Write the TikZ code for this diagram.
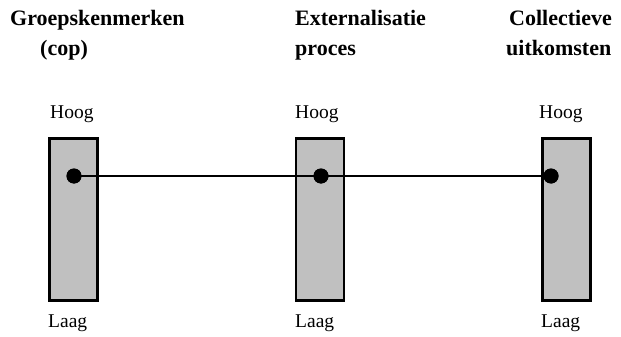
\documentclass[tikz,border=0pt]{standalone}
\usepackage{fontspec}
\setmainfont{Liberation Serif}
\begin{document}
\begin{tikzpicture}[x=1pt,y=-1pt,
  bar/.style={draw=black,line width=2.6pt,fill=barfill,inner sep=0pt,minimum width=48pt,minimum height=162pt},
  dot/.style={circle,fill=black,inner sep=0pt,minimum size=15pt},
  head/.style={anchor=base west,inner sep=0pt,font=\fontsize{22}{26}\selectfont\bfseries},
  lab/.style={anchor=base west,inner sep=0pt,font=\fontsize{19.5}{23}\selectfont},
  link/.style={line width=2pt}]
\definecolor{barfill}{HTML}{C0C0C0}
\useasboundingbox (0,0) rectangle (621,337);
% headings
\node[head] (h1a) at (10,26) {Groepskenmerken};
\node[head] (h1b) at (40,56) {(cop)};
\node[head] (h2a) at (295,26) {Externalisatie};
\node[head] (h2b) at (295,56) {proces};
\node[head] (h3a) at (509,26) {Collectieve};
\node[head] (h3b) at (506,56) {uitkomsten};
% bars
\node[bar] (b1) at (73.6,219.4) {};
\node[bar] (b2) at (320,219.4) {};
\node[bar] (b3) at (566.5,219.4) {};
% labels
\node[lab] (t1) at (50,118) {Hoog};
\node[lab] (t2) at (295,118) {Hoog};
\node[lab] (t3) at (539,118) {Hoog};
\node[lab] (l1) at (48,327) {Laag};
\node[lab] (l2) at (295,327) {Laag};
\node[lab] (l3) at (541,327) {Laag};
% dots and connector
\node[dot] (d1) at (74,176) {};
\node[dot] (d2) at (321,176) {};
\node[dot] (d3) at (551,176) {};
\draw[link] (d1.center) -- (d2.center) -- (d3.center);
\node[dot] at (d1) {};
\node[dot] at (d2) {};
\node[dot] at (d3) {};
\end{tikzpicture}
\end{document}
